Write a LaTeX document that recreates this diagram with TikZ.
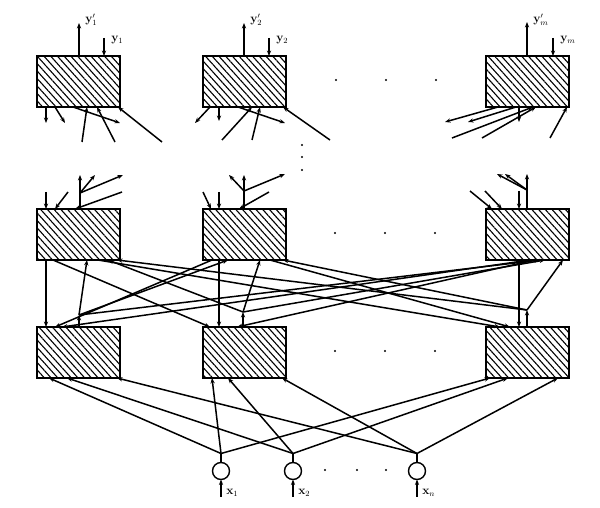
\documentclass[tikz,border=0pt]{standalone}
\usetikzlibrary{arrows.meta,patterns.meta}
\tikzset{
  subnet/.style={draw,line width=1.8pt,minimum width=83pt,minimum height=51pt,
    inner sep=0pt,outer sep=0pt,pattern={Lines[angle=-48,distance=5pt,line width=1.1pt]}},
  unit/.style={draw,circle,line width=1.4pt,minimum size=17pt,inner sep=0pt,outer sep=0pt},
  arr/.style={-{Stealth[length=5.5pt,width=4.2pt]}},
  lbl/.style={font=\large,inner sep=0.5pt,anchor=west}
}
\begin{document}
\begin{tikzpicture}[x=1pt,y=-1pt,line width=1.5pt]
  \useasboundingbox (0,0) rectangle (600,508);
  % sub-networks, three rows
  \node[subnet] (top1) at (78.5,81.5) {};
  \node[subnet] (top2) at (244.5,81.5) {};
  \node[subnet] (topm) at (527.5,81.5) {};
  \node[subnet] (mid1) at (78.5,234.5) {};
  \node[subnet] (mid2) at (244.5,234.5) {};
  \node[subnet] (midm) at (527.5,234.5) {};
  \node[subnet] (low1) at (78.5,352.5) {};
  \node[subnet] (low2) at (244.5,352.5) {};
  \node[subnet] (lowm) at (527.5,352.5) {};
  % input units
  \node[unit] (in1) at (221,471) {};
  \node[unit] (in2) at (293,471) {};
  \node[unit] (inn) at (417,471) {};

  % outputs on top
  \draw[arr] ([xshift=42]top1.north west) -- ([shift={(42,-33)}]top1.north west);
  \draw[arr] ([shift={(67,-18)}]top1.north west) -- ([xshift=67]top1.north west);
  \draw[arr] ([xshift=41]top2.north west) -- ([shift={(41,-33)}]top2.north west);
  \draw[arr] ([shift={(66,-18)}]top2.north west) -- ([xshift=66]top2.north west);
  \draw[arr] ([xshift=41]topm.north west) -- ([shift={(41,-34)}]topm.north west);
  \draw[arr] ([shift={(67,-18)}]topm.north west) -- ([xshift=67]topm.north west);
  \node[lbl] (yp1) at ([shift={(47,-36)}]top1.north west) {$\mathbf{y}'_1$};
  \node[lbl] (y1) at ([shift={(73,-16)}]top1.north west) {$\mathbf{y}_1$};
  \node[lbl] (yp2) at ([shift={(46,-36)}]top2.north west) {$\mathbf{y}'_2$};
  \node[lbl] (y2) at ([shift={(72,-16)}]top2.north west) {$\mathbf{y}_2$};
  \node[lbl] (ypm) at ([shift={(46,-36)}]topm.north west) {$\mathbf{y}'_m$};
  \node[lbl] (ym) at ([shift={(73,-16)}]topm.north west) {$\mathbf{y}_m$};

  % stubs under the top row
  \draw[arr] ([xshift=9]top1.south west) -- ([shift={(9,16)}]top1.south west);
  \draw[arr] ([xshift=18]top1.south west) -- ([shift={(28,16)}]top1.south west);
  \draw[arr] ([xshift=36]top1.south west) -- ([shift={(83,16)}]top1.south west);
  \draw[arr] ([shift={(45,35)}]top1.south west) -- ([xshift=50]top1.south west);
  \draw[arr] ([shift={(78,35)}]top1.south west) -- ([xshift=60]top1.south west);
  \draw[arr] ([shift={(125,35)}]top1.south west) -- ([xshift=81]top1.south west);
  \draw[arr] ([xshift=7]top2.south west) -- ([shift={(-8,16)}]top2.south west);
  \draw[arr] ([xshift=16]top2.south west) -- ([shift={(16,14)}]top2.south west);
  \draw[arr] ([xshift=35]top2.south west) -- ([shift={(82,16)}]top2.south west);
  \draw[arr] ([shift={(19,33)}]top2.south west) -- ([xshift=49]top2.south west);
  \draw[arr] ([shift={(49,33)}]top2.south west) -- ([xshift=57]top2.south west);
  \draw[arr] ([shift={(127,33)}]top2.south west) -- ([xshift=80]top2.south west);
  \draw[arr] ([xshift=12]topm.south west) -- ([shift={(-41,15)}]topm.south west);
  \draw[arr] ([xshift=30]topm.south west) -- ([shift={(-18,15)}]topm.south west);
  \draw[arr] ([xshift=33]topm.south west) -- ([shift={(33,15)}]topm.south west);
  \draw[arr] ([shift={(-34,31)}]topm.south west) -- ([xshift=47]topm.south west);
  \draw[arr] ([shift={(-4,31)}]topm.south west) -- ([xshift=50]topm.south west);
  \draw[arr] ([shift={(64,31)}]topm.south west) -- ([xshift=81]topm.south west);

  % stubs over the middle row
  \coordinate (g1) at ([shift={(43,-16)}]mid1.north west);
  \coordinate (g2) at ([shift={(41,-18)}]mid2.north west);
  \coordinate (gm) at ([shift={(41,-19)}]midm.north west);
  \draw[arr] ([shift={(9,-17)}]mid1.north west) -- ([xshift=9]mid1.north west);
  \draw[arr] ([shift={(31,-17)}]mid1.north west) -- ([xshift=18]mid1.north west);
  \draw[arr] ([shift={(85,-17)}]mid1.north west) -- ([xshift=38]mid1.north west);
  \draw ([xshift=43]mid1.north west) -- (g1);
  \draw[arr] (g1) -- ([shift={(43,-34)}]mid1.north west);
  \draw[arr] (g1) -- ([shift={(58,-34)}]mid1.north west);
  \draw[arr] (g1) -- ([shift={(86,-34)}]mid1.north west);
  \draw[arr] ([shift={(0,-17)}]mid2.north west) -- ([xshift=8]mid2.north west);
  \draw[arr] ([shift={(16,-17)}]mid2.north west) -- ([xshift=16]mid2.north west);
  \draw[arr] ([shift={(66,-17)}]mid2.north west) -- ([xshift=36]mid2.north west);
  \draw ([xshift=41]mid2.north west) -- (g2);
  \draw[arr] (g2) -- ([shift={(41,-34)}]mid2.north west);
  \draw[arr] (g2) -- ([shift={(26,-34)}]mid2.north west);
  \draw[arr] (g2) -- ([shift={(82,-35)}]mid2.north west);
  \draw[arr] ([shift={(-16,-18)}]midm.north west) -- ([xshift=6]midm.north west);
  \draw[arr] ([shift={(-1,-18)}]midm.north west) -- ([xshift=16]midm.north west);
  \draw[arr] ([shift={(33,-18)}]midm.north west) -- ([xshift=33]midm.north west);
  \draw ([xshift=41]midm.north west) -- (gm);
  \draw[arr] (gm) -- ([shift={(41,-35)}]midm.north west);
  \draw[arr] (gm) -- ([shift={(11,-35)}]midm.north west);
  \draw[arr] (gm) -- ([shift={(19,-35)}]midm.north west);

  % middle row down to lower row
  \draw[arr] ([xshift=9]mid1.south west) -- ([xshift=9]low1.north west);
  \draw[arr] ([xshift=16]mid1.south west) -- ([xshift=7]low2.north west);
  \draw[arr] ([xshift=61]mid1.south west) -- ([xshift=14]lowm.north west);
  \draw[arr] ([xshift=9]mid2.south west) -- ([xshift=18]low1.north west);
  \draw[arr] ([xshift=16]mid2.south west) -- ([xshift=16]low2.north west);
  \draw[arr] ([xshift=67]mid2.south west) -- ([xshift=24]lowm.north west);
  \draw[arr] ([xshift=44]midm.south west) -- ([xshift=25]low1.north west);
  \draw[arr] ([xshift=49]midm.south west) -- ([xshift=34]low2.north west);
  \draw[arr] ([xshift=33]midm.south west) -- ([xshift=33]lowm.north west);
  % lower row up to middle row
  \coordinate (f1) at ([shift={(42,-12)}]low1.north west);
  \coordinate (f2) at ([shift={(40,-15)}]low2.north west);
  \coordinate (fm) at ([shift={(41,-17)}]lowm.north west);
  \draw[arr] ([xshift=42]low1.north west) -- (f1);
  \draw[arr] (f1) -- ([xshift=50]mid1.south west);
  \draw[arr] (f1) -- ([xshift=25]mid2.south west);
  \draw[arr] (f1) -- ([xshift=54]midm.south west);
  \draw[arr] ([xshift=40]low2.north west) -- (f2);
  \draw[arr] (f2) -- ([xshift=71]mid1.south west);
  \draw[arr] (f2) -- ([xshift=57]mid2.south west);
  \draw[arr] (f2) -- ([xshift=59]midm.south west);
  \draw[arr] ([xshift=41]lowm.north west) -- (fm);
  \draw[arr] (fm) -- ([xshift=80]mid1.south west);
  \draw[arr] (fm) -- ([xshift=80]mid2.south west);
  \draw[arr] (fm) -- ([xshift=77]midm.south west);

  % inputs
  \coordinate (h1) at ([shift={(0,-9)}]in1.north);
  \coordinate (h2) at ([shift={(0,-9)}]in2.north);
  \coordinate (hn) at ([shift={(0,-9)}]inn.north);
  \draw (in1.north) -- (h1);
  \draw (in2.north) -- (h2);
  \draw (inn.north) -- (hn);
  \draw[arr] (h1) -- ([xshift=12]low1.south west);
  \draw[arr] (h1) -- ([xshift=9]low2.south west);
  \draw[arr] (h1) -- ([xshift=4]lowm.south west);
  \draw[arr] (h2) -- ([xshift=30]low1.south west);
  \draw[arr] (h2) -- ([xshift=25]low2.south west);
  \draw[arr] (h2) -- ([xshift=22]lowm.south west);
  \draw[arr] (hn) -- ([xshift=80]low1.south west);
  \draw[arr] (hn) -- ([xshift=79]low2.south west);
  \draw[arr] (hn) -- ([xshift=72]lowm.south west);
  \coordinate (s1) at ([shift={(0,17)}]in1.south);
  \coordinate (s2) at ([shift={(0,17)}]in2.south);
  \coordinate (sn) at ([shift={(0,17)}]inn.south);
  \draw[arr] (s1) -- (in1.south);
  \draw[arr] (s2) -- (in2.south);
  \draw[arr] (sn) -- (inn.south);
  \node[lbl] (x1) at ([shift={(4,-4)}]s1) {$\mathbf{x}_1$};
  \node[lbl] (x2) at ([shift={(4,-4)}]s2) {$\mathbf{x}_2$};
  \node[lbl] (xn) at ([shift={(4,-4)}]sn) {$\mathbf{x}_n$};

  % dots
  \fill (336,80) circle (1.1) (386,80) circle (1.1) (436,80) circle (1.1);
  \fill (302,145) circle (1.1) (302,157) circle (1.1) (302,170) circle (1.1);
  \fill (335,233) circle (1.1) (385,233) circle (1.1) (435,233) circle (1.1);
  \fill (335,351) circle (1.1) (385,351) circle (1.1) (435,351) circle (1.1);
  \fill (325,470) circle (1.1) (357,470) circle (1.1) (386,470) circle (1.1);
\end{tikzpicture}
\end{document}
